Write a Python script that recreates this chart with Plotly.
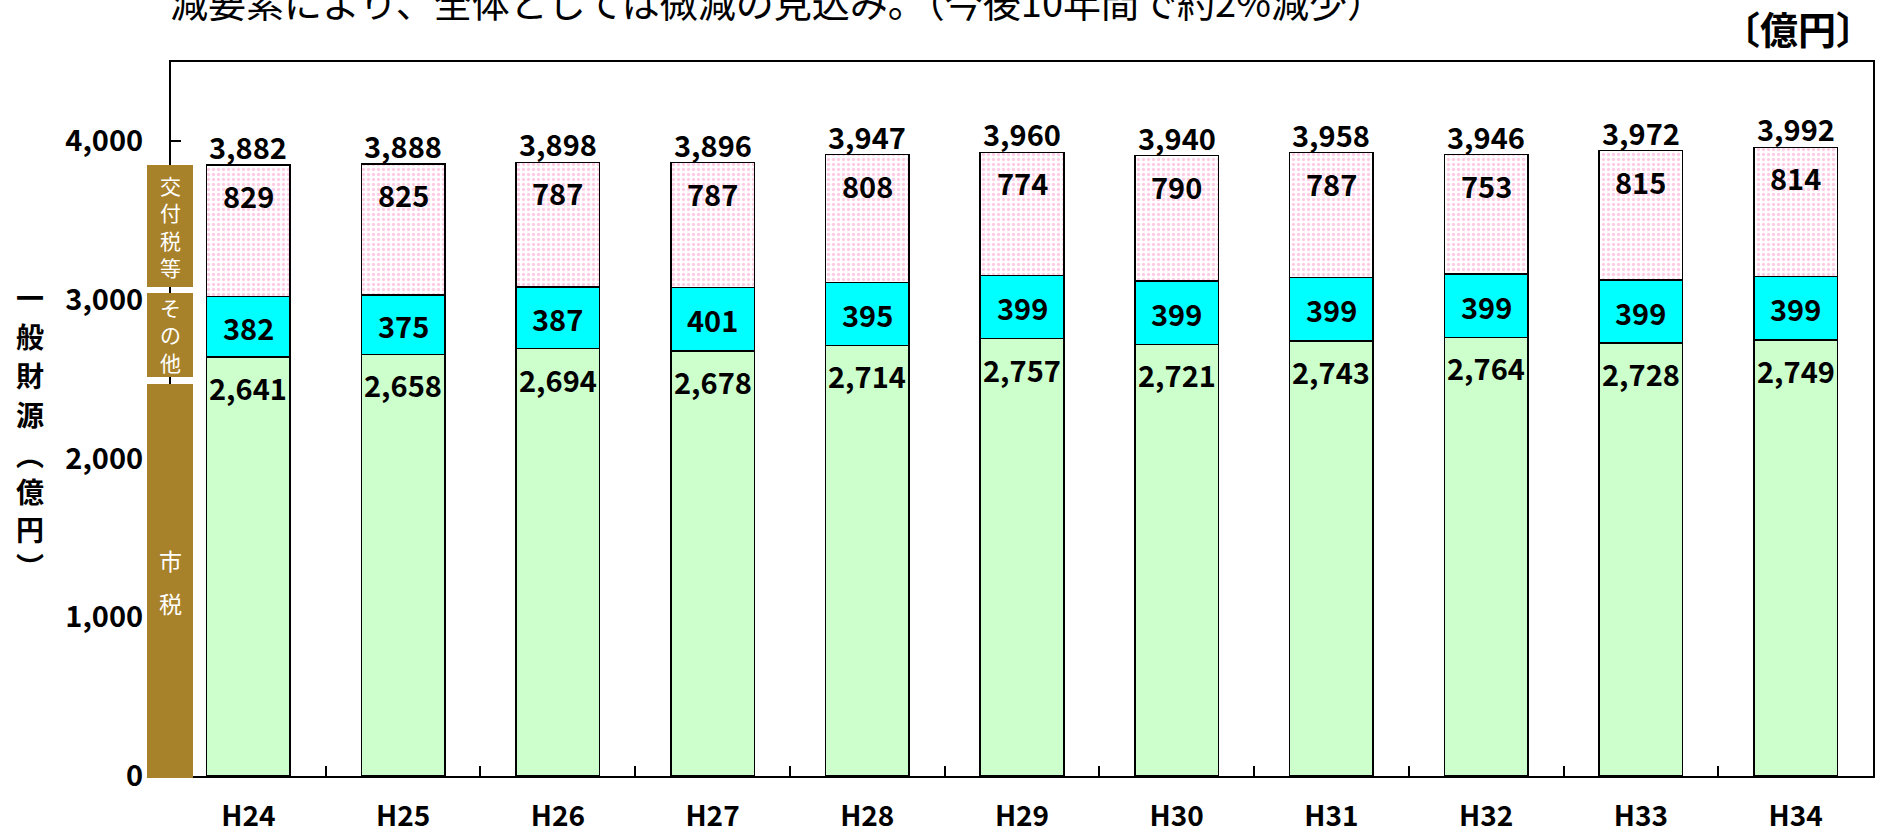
import plotly.graph_objects as go

years = ["H24", "H25", "H26", "H27", "H28", "H29", "H30", "H31", "H32", "H33", "H34"]
city_tax = [2641, 2658, 2694, 2678, 2714, 2757, 2721, 2743, 2764, 2728, 2749]
other = [382, 375, 387, 401, 395, 399, 399, 399, 399, 399, 399]
grants = [829, 825, 787, 787, 808, 774, 790, 787, 753, 815, 814]
totals = [3882, 3888, 3898, 3896, 3947, 3960, 3940, 3958, 3946, 3972, 3992]
y_ticks = [0, 1000, 2000, 3000, 4000]

FONT = "Noto Sans CJK JP"
W, H = 1886, 834
ML, MR, MT, MB = 171, 13, 62, 58
PW = W - ML - MR
PH = H - MT - MB

def px_x(px):
    return (px - ML) / PW

def px_y(py):
    return (H - MB - py) / PH

fig = go.Figure()
line = dict(color="black", width=1.5)
fig.add_bar(x=years, y=city_tax, name="市税", marker=dict(color="#CCFFCC", line=line))
fig.add_bar(x=years, y=other, name="その他", marker=dict(color="#00FFFF", line=line))
fig.add_bar(x=years, y=grants, name="交付税等",
            marker=dict(color="white", line=line,
                        pattern=dict(shape=".", fgcolor="#FF99CC", bgcolor="white",
                                     size=5, solidity=0.35)))

lab_font = dict(family=FONT, size=29, color="black", weight="bold")
ann = []
for i, yr in enumerate(years):
    c_top = city_tax[i]
    o_top = city_tax[i] + other[i]
    g_top = o_top + grants[i]
    ann.append(dict(x=yr, y=c_top, text=f"{city_tax[i]:,}", yanchor="top", yshift=-7,
                    showarrow=False, font=lab_font))
    ann.append(dict(x=yr, y=(c_top + o_top) / 2, text=f"{other[i]:,}", yanchor="middle",
                    showarrow=False, font=lab_font))
    ann.append(dict(x=yr, y=g_top, text=f"{grants[i]:,}", yanchor="top", yshift=-7,
                    showarrow=False, font=lab_font))
    ann.append(dict(x=yr, y=g_top, text=f"{totals[i]:,}", yanchor="bottom", yshift=-4,
                    showarrow=False, font=dict(family=FONT, size=29, color="black", weight="bold")))

# brown category boxes with vertical white text
BROWN = "#A8822A"
boxes = [(165, 287), (293, 377), (384, 778)]
shapes = []
for y0, y1 in boxes:
    shapes.append(dict(type="rect", xref="paper", yref="paper",
                       x0=px_x(147), x1=px_x(193), y0=px_y(y1), y1=px_y(y0),
                       fillcolor=BROWN, line=dict(width=0), layer="above"))

box_font = dict(family=FONT, size=21, color="white")
ann.append(dict(xref="paper", yref="paper", x=px_x(170), y=px_y(226), text="交<br>付<br>税<br>等",
                showarrow=False, xanchor="center", yanchor="middle", font=box_font))
ann.append(dict(xref="paper", yref="paper", x=px_x(170), y=px_y(334), text="そ<br>の<br>他",
                showarrow=False, xanchor="center", yanchor="middle", font=box_font))
for ch, py in [("市", 560), ("税", 603)]:
    ann.append(dict(xref="paper", yref="paper", x=px_x(170), y=px_y(py), text=ch,
                    showarrow=False, xanchor="center", yanchor="middle",
                    font=dict(family=FONT, size=23, color="white")))

# y-axis title (vertical, one character per line)
for ch, py in [("一", 297), ("般", 336), ("財", 375), ("源", 414),
               ("︵", 454), ("億", 491), ("円", 529), ("︶", 566)]:
    ann.append(dict(xref="paper", yref="paper", x=px_x(30), y=px_y(py), text=ch,
                    showarrow=False, xanchor="center", yanchor="middle",
                    font=dict(family=FONT, size=28, color="black", weight="bold")))

# unit label
ann.append(dict(xref="paper", yref="paper", x=px_x(1876), y=px_y(28), text="〔億円〕",
                showarrow=False, xanchor="right", yanchor="middle",
                font=dict(family=FONT, size=38, color="black", weight="bold")))

# cut-off heading line at top
ann.append(dict(xref="paper", yref="paper", x=px_x(168), y=px_y(0),
                text="減要素により、全体としては微減の見込み。（今後10年間で約2%減少）",
                showarrow=False, xanchor="left", yanchor="middle",
                font=dict(family=FONT, size=38, color="black")))

fig.update_layout(
    barmode="stack",
    bargap=0.46,
    width=W, height=H,
    margin=dict(l=ML, r=MR, t=MT, b=MB),
    plot_bgcolor="white", paper_bgcolor="white",
    showlegend=False,
    shapes=shapes,
    annotations=ann,
    font=dict(family=FONT, color="black"),
)
fig.update_yaxes(range=[0, 4500], tickvals=y_ticks, ticktext=[f"{v:,}" for v in y_ticks],
                 ticks="inside", ticklen=10, tickwidth=1.5, tickcolor="black",
                 showline=True, linecolor="black", linewidth=2, mirror=True,
                 showgrid=False, zeroline=False, ticklabelstandoff=20, automargin=False,
                 tickfont=dict(family=FONT, size=29, color="black", weight="bold"))
fig.update_xaxes(ticks="inside", tickson="boundaries", ticklen=10, tickwidth=1.5, tickcolor="black",
                 showline=True, linecolor="black", linewidth=2, mirror=True,
                 showgrid=False, ticklabelstandoff=14, automargin=False,
                 tickfont=dict(family=FONT, size=28, color="black", weight="bold"))

fig.write_html("out.html", config={"displayModeBar": False},
               post_script="document.body.style.margin='0';document.body.style.overflow='hidden';")
